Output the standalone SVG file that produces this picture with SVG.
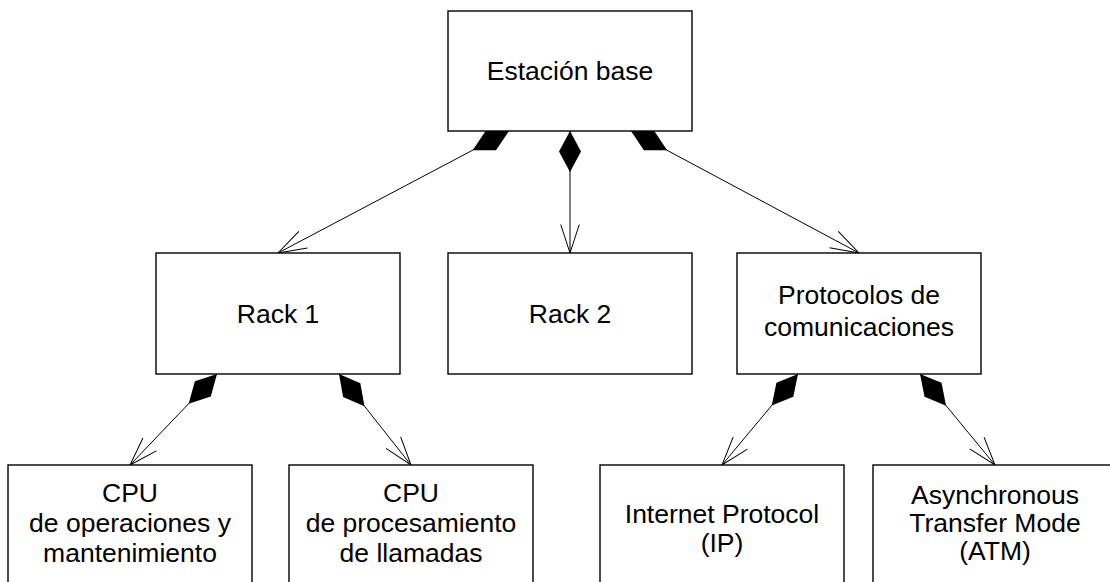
<svg xmlns="http://www.w3.org/2000/svg" width="1110" height="582" viewBox="0 0 1110 582">
  <style>
    .box { fill: #ffffff; stroke: #000000; stroke-width: 1.4; }
    .lbl { font-family: "Liberation Sans", Arial, sans-serif; font-size: 26.5px; fill: #000000; text-anchor: middle; }
    .link { fill: none; stroke: #000000; stroke-width: 1; marker-start: url(#composite); marker-end: url(#open-arrow); }
  </style>
  <defs>
    <!-- filled diamond at the owning (whole) end -->
    <marker id="composite" markerUnits="userSpaceOnUse" orient="auto" refX="0" refY="0" markerWidth="1" markerHeight="1" overflow="visible">
      <path d="M0,0 L20.5,-11 L41,0 L20.5,11 Z" fill="#000000" stroke="none"/>
    </marker>
    <!-- open V arrowhead at the part end -->
    <marker id="open-arrow" markerUnits="userSpaceOnUse" orient="auto" refX="0" refY="0" markerWidth="1" markerHeight="1" overflow="visible">
      <path d="M-28.5,-9.3 L0,0 L-28.5,9.3" fill="none" stroke="#000000" stroke-width="1"/>
    </marker>
  </defs>

  <rect width="1110" height="582" fill="#ffffff"/>

  <g id="connectors">
    <path class="link" d="M509,131 L278,253"/>
    <path class="link" d="M570,131 L570,253"/>
    <path class="link" d="M631,131 L859,253"/>
    <path class="link" d="M217,374 L130,465"/>
    <path class="link" d="M339,374 L411,465"/>
    <path class="link" d="M798,374 L722,465"/>
    <path class="link" d="M920,374 L995,465"/>
  </g>

  <g id="estacion-base">
    <rect class="box" x="448" y="11" width="244" height="120"/>
    <text class="lbl" x="570" y="80">Estación base</text>
  </g>

  <g id="rack-1">
    <rect class="box" x="156" y="253" width="244" height="121"/>
    <text class="lbl" x="278" y="323">Rack 1</text>
  </g>

  <g id="rack-2">
    <rect class="box" x="448" y="253" width="244" height="121"/>
    <text class="lbl" x="570" y="323">Rack 2</text>
  </g>

  <g id="protocolos">
    <rect class="box" x="737" y="253" width="244" height="121"/>
    <text class="lbl" x="859" y="304">Protocolos de</text>
    <text class="lbl" x="859" y="336">comunicaciones</text>
  </g>

  <g id="cpu-om">
    <rect class="box" x="8" y="465" width="244" height="125"/>
    <text class="lbl" x="130" y="502">CPU</text>
    <text class="lbl" x="130" y="532">de operaciones y</text>
    <text class="lbl" x="130" y="562">mantenimiento</text>
  </g>

  <g id="cpu-llamadas">
    <rect class="box" x="289" y="465" width="244" height="125"/>
    <text class="lbl" x="411" y="502">CPU</text>
    <text class="lbl" x="411" y="532">de procesamiento</text>
    <text class="lbl" x="411" y="562">de llamadas</text>
  </g>

  <g id="ip">
    <rect class="box" x="600" y="465" width="244" height="125"/>
    <text class="lbl" x="722" y="523">Internet Protocol</text>
    <text class="lbl" x="722" y="552">(IP)</text>
  </g>

  <g id="atm">
    <rect class="box" x="873" y="465" width="244" height="125"/>
    <text class="lbl" x="995" y="504">Asynchronous</text>
    <text class="lbl" x="995" y="532">Transfer Mode</text>
    <text class="lbl" x="995" y="560">(ATM)</text>
  </g>
</svg>
